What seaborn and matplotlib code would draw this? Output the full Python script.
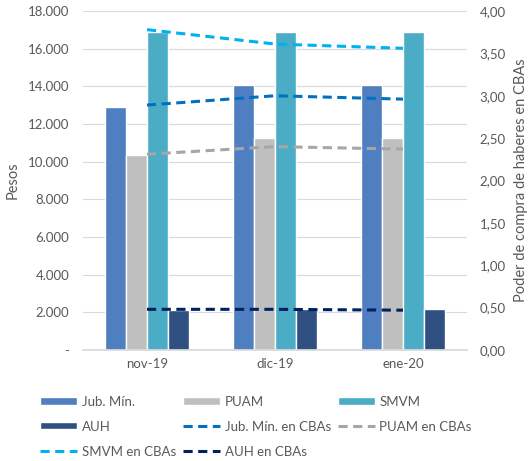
import numpy as np
import pandas as pd
import seaborn as sns
import matplotlib.pyplot as plt
from matplotlib.patches import Patch
from matplotlib.lines import Line2D
from matplotlib.ticker import FuncFormatter

# data
meses = ["nov-19", "dic-19", "ene-20"]
jub_min = [12900, 14068, 14068]
puam = [10350, 11254, 11254]
smvm = [16875, 16875, 16875]
auh = [2130, 2180, 2180]

jub_cba = [2.89, 3.00, 2.96]
puam_cba = [2.31, 2.40, 2.37]
smvm_cba = [3.78, 3.61, 3.56]
auh_cba = [0.48, 0.48, 0.47]

bar_names = ["Jub. Mín.", "PUAM", "SMVM", "AUH"]
bar_colors = ["#4F7FC1", "#BFBFBF", "#4BACC6", "#2F5080"]
line_names = ["Jub. Mín. en CBAs", "PUAM en CBAs", "SMVM en CBAs", "AUH en CBAs"]
line_colors = ["#0070C0", "#A6A6A6", "#00B0F0", "#002060"]

sns.set_theme(style="white")
plt.rcParams["font.family"] = ["Lato", "DejaVu Sans"]
txt = "#595959"
dash = (0, (3, 1.8))

bars_df = pd.DataFrame({
    "mes": np.tile(meses, 4),
    "serie": np.repeat(bar_names, 3),
    "valor": jub_min + puam + smvm + auh,
})

fig = plt.figure(figsize=(5.28, 4.61), dpi=100)
ax = fig.add_axes([83 / 528, 1 - 350 / 461, 384 / 528, 339 / 461])

sns.barplot(data=bars_df, x="mes", y="valor", hue="serie", palette=bar_colors,
            width=0.65, gap=0, ax=ax, legend=False, saturation=1)
ax.set_ylim(0, 18000)
ax.set_yticks(np.arange(0, 18001, 2000))
ax.yaxis.set_major_formatter(FuncFormatter(
    lambda v, p: "-" if v == 0 else f"{int(v):,}".replace(",", ".")))
ax.grid(axis="y", color="#D9D9D9", linewidth=0.8)
ax.set_axisbelow(True)
ax.set_xlabel("")
ax.set_ylabel("Pesos", color=txt, fontsize=10.5, labelpad=6)
for s in ["top", "right", "left"]:
    ax.spines[s].set_visible(False)
ax.spines["bottom"].set_color("#D9D9D9")
ax.tick_params(axis="both", colors=txt, labelsize=9.5, length=0)
ax.tick_params(axis="y", pad=10)
ax.tick_params(axis="x", pad=6)

ax2 = ax.twinx()
for vals, color in zip([jub_cba, puam_cba, smvm_cba, auh_cba], line_colors):
    sns.lineplot(x=[0, 1, 2], y=vals, color=color, linestyle=dash,
                 linewidth=2.2, ax=ax2)
ax2.set_ylim(0, 4)
ax2.set_yticks(np.arange(0, 4.01, 0.5))
ax2.yaxis.set_major_formatter(FuncFormatter(lambda v, p: f"{v:.2f}".replace(".", ",")))
ax2.set_ylabel("Poder de compra de haberes en CBAs", color=txt, fontsize=10.5,
               labelpad=6)
ax2.tick_params(axis="y", colors=txt, labelsize=9.5, length=0, pad=9)
for s in ax2.spines.values():
    s.set_visible(False)
ax.set_xlim(-0.5, 2.5)

bh = [Patch(facecolor=c, label=n) for c, n in zip(bar_colors, bar_names)]
lh = [Line2D([0], [0], color=c, lw=2.2, linestyle=dash, label=n)
      for c, n in zip(line_colors, line_names)]
order = [bh[0], bh[3], lh[2], bh[1], lh[0], lh[3], bh[2], lh[1]]
fig.legend(handles=order, loc="upper left", ncol=3,
           bbox_to_anchor=(35 / 528, 1 - 395 / 461, 442 / 528, 0.01),
           mode="expand", frameon=False, fontsize=9.5, labelcolor=txt,
           handlelength=2.8, handleheight=0.45, handletextpad=0.35,
           labelspacing=0.98, borderaxespad=0)

fig.savefig("out.png", dpi=100)
